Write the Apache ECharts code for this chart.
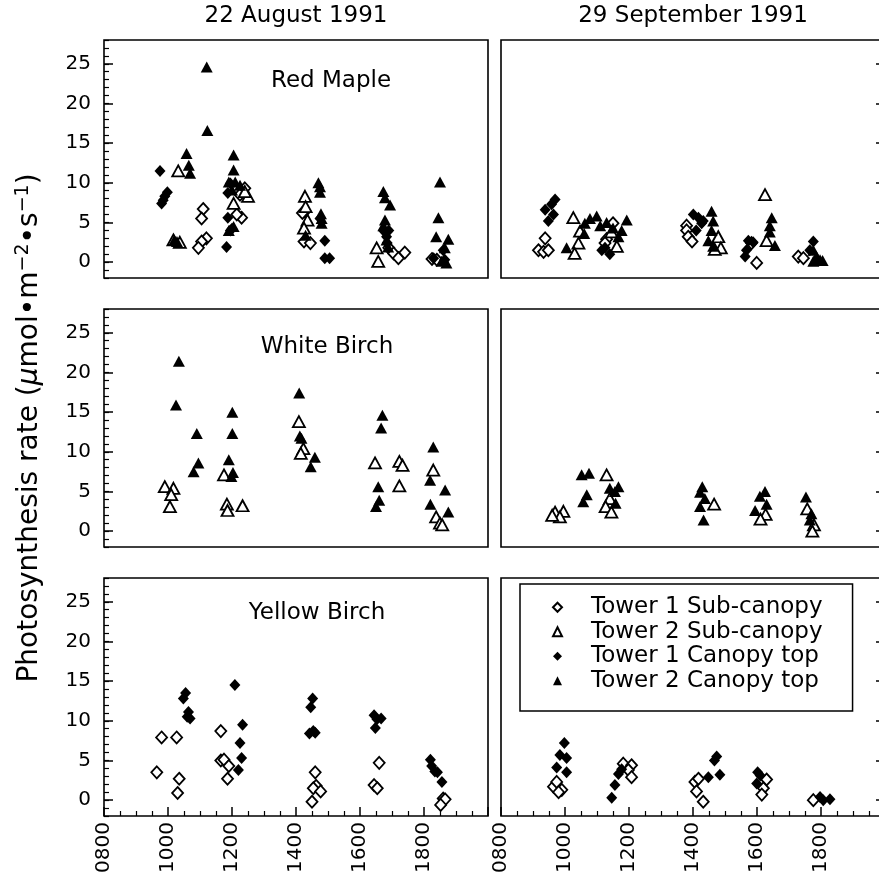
<!DOCTYPE html>
<html>
<head>
<meta charset="utf-8">
<script src="https://cdn.jsdelivr.net/npm/echarts@6/dist/echarts.min.js"></script>
<style>
  html, body { margin: 0; padding: 0; background: #fff; }
  #chart { width: 879px; height: 881px; }
</style>
</head>
<body>
<div id="chart"></div>
<script>
// labels
const seriesNames = ['Tower 1 Sub-canopy', 'Tower 2 Sub-canopy', 'Tower 1 Canopy top', 'Tower 2 Canopy top'];
const speciesNames = ['Red Maple', 'White Birch', 'Yellow Birch'];
const dateNames = ['22 August 1991', '29 September 1991'];
const yTickValues = [0, 5, 10, 15, 20, 25];
const xTickLabels = ['0800', '1000', '1200', '1400', '1600', '1800'];

// [hour of day, photosynthesis rate]
// Red Maple, 22 August
const rmAugT1Sub = [[11.1, 6.7], [11.05, 5.5], [11.2, 3.0], [11.05, 2.6], [10.95, 1.8], [12.25, 8.5], [12.4, 9.3], [12.3, 5.6], [12.15, 6.0],
  [14.28, 6.4], [14.2, 6.2], [14.25, 2.6], [14.45, 2.4], [16.9, 1.8], [17.05, 1.1], [17.2, 0.5], [17.4, 1.2], [18.25, 0.4], [18.4, 0.3]];
const rmAugT2Sub = [[10.32, 11.5], [10.17, 2.8], [10.37, 2.5], [12.05, 7.4], [12.5, 8.3], [12.4, 8.9], [14.28, 8.3], [14.3, 7.0], [14.36, 5.3],
  [14.25, 4.3], [16.52, 1.8], [16.57, 0.1]];
const rmAugT1Top = [[9.75, 11.5], [9.98, 8.8], [9.9, 8.3], [9.85, 7.8], [9.8, 7.4], [11.83, 1.9], [11.87, 5.6], [11.95, 4.0], [12.0, 4.2],
  [11.87, 8.7], [11.95, 9.9], [14.75, 5.5], [14.9, 2.7], [14.9, 0.5], [15.05, 0.5], [16.73, 4.0], [16.83, 3.2], [16.9, 4.0], [16.85, 2.4],
  [18.6, 1.5], [18.65, 0.3], [18.3, 0.5]];
const rmAugT2Top = [[11.21, 24.6], [11.23, 16.6], [10.58, 13.7], [10.65, 12.2], [10.69, 11.2], [10.2, 2.8], [10.28, 2.6], [12.05, 13.5],
  [12.05, 11.6], [11.9, 10.1], [12.1, 10.1], [12.25, 9.7], [12.0, 9.1], [11.9, 4.0], [12.05, 4.5], [14.7, 10.0], [14.75, 9.5], [14.75, 8.8],
  [14.78, 6.1], [14.8, 5.5], [14.8, 4.9], [14.3, 3.4], [16.73, 8.9], [16.78, 8.1], [16.94, 7.2], [16.78, 5.3], [16.73, 4.6], [16.83, 2.8],
  [16.88, 1.9], [18.5, 10.1], [18.45, 5.6], [18.38, 3.2], [18.76, 2.9], [18.65, 1.8], [18.7, -0.1], [18.55, 0.1]];

// Red Maple, 29 September
const rmSepT1Sub = [[9.17, 1.5], [9.33, 1.3], [9.48, 1.5], [9.38, 3.0], [11.5, 4.9], [11.3, 2.9], [11.25, 2.4], [13.8, 4.6], [13.8, 4.0],
  [13.85, 3.2], [13.97, 2.6], [15.99, -0.1], [15.83, 2.4], [17.29, 0.7], [17.45, 0.5]];
const rmSepT2Sub = [[10.26, 5.6], [10.47, 3.9], [10.42, 2.4], [10.3, 1.1], [11.62, 2.0], [11.45, 3.8], [14.79, 3.2], [14.87, 1.8],
  [14.68, 1.6], [16.25, 8.5], [16.3, 2.7]];
const rmSepT1Top = [[9.69, 7.9], [9.58, 7.3], [9.38, 6.6], [9.64, 6.0], [9.48, 5.2], [11.25, 1.8], [11.4, 1.0], [11.15, 1.5], [14.01, 6.0],
  [14.17, 5.6], [14.27, 4.9], [14.1, 4.0], [14.32, 5.2], [15.73, 2.7], [15.88, 2.5], [15.67, 1.5], [15.63, 0.7], [17.76, 2.6], [17.65, 1.5]];
const rmSepT2Top = [[10.05, 1.8], [10.62, 4.9], [10.78, 5.5], [10.99, 5.8], [11.1, 4.6], [10.6, 3.6], [11.3, 5.0], [11.5, 4.3], [11.93, 5.3],
  [11.77, 4.0], [11.67, 3.2], [14.58, 6.4], [14.63, 5.2], [14.58, 4.0], [14.48, 2.7], [14.63, 2.0], [16.46, 5.6], [16.4, 4.6], [16.4, 3.8],
  [16.56, 2.1], [17.76, 1.5], [17.86, 0.7], [17.97, 0.3], [17.76, 0.1], [18.05, 0.2]];

// White Birch, 22 August
const wbAugT2Sub = [[9.9, 5.6], [10.17, 5.4], [10.1, 4.6], [10.06, 3.1], [11.75, 7.1], [11.84, 3.4], [11.86, 2.6], [12.33, 3.2],
  [14.09, 13.8], [14.23, 10.4], [14.15, 9.8], [16.47, 8.6], [17.23, 8.8], [17.33, 8.3], [17.23, 5.7], [18.29, 7.7], [18.38, 1.8],
  [18.5, 1.0], [18.57, 0.8]];
const wbAugT2Top = [[10.34, 21.4], [10.25, 15.9], [10.9, 12.3], [10.95, 8.6], [10.8, 7.5], [12.01, 15.0], [12.01, 12.3], [11.9, 9.0],
  [12.03, 7.4], [11.98, 6.9], [14.1, 17.4], [14.12, 12.0], [14.17, 11.7], [14.59, 9.3], [14.46, 8.1], [16.7, 14.6], [16.66, 13.0],
  [16.57, 5.6], [16.6, 3.9], [16.5, 3.1], [18.29, 10.6], [18.19, 6.4], [18.66, 5.2], [18.2, 3.4], [18.76, 2.4]];

// White Birch, 29 September
const wbSepT2Sub = [[9.69, 2.4], [9.95, 2.5], [9.84, 1.8], [9.6, 2.0], [11.3, 7.1], [11.4, 4.1], [11.27, 3.1], [11.45, 2.4], [14.66, 3.4],
  [16.27, 2.1], [16.11, 1.5], [17.57, 2.8], [17.78, 0.8], [17.73, 0.0]];
const wbSepT2Top = [[10.52, 7.1], [10.75, 7.3], [10.68, 4.6], [10.57, 3.7], [11.4, 5.4], [11.67, 5.6], [11.56, 5.0], [11.58, 3.5],
  [14.29, 5.6], [14.22, 4.9], [14.37, 4.1], [14.22, 3.1], [14.33, 1.4], [16.25, 5.0], [16.09, 4.4], [16.3, 3.4], [15.94, 2.6],
  [17.53, 4.3], [17.7, 2.2], [17.65, 1.4]];

// Yellow Birch, 22 August
const ybAugT1Sub = [[9.65, 3.5], [9.8, 7.9], [10.27, 7.9], [10.35, 2.7], [10.3, 0.9], [11.65, 8.7], [11.65, 5.0], [11.75, 5.1], [11.9, 4.3],
  [11.86, 2.7], [14.6, 3.5], [14.63, 1.8], [14.54, 1.5], [14.77, 1.1], [14.5, -0.2], [16.6, 4.7], [16.44, 1.9], [16.54, 1.5], [18.6, 0.2],
  [18.66, 0.1], [18.52, -0.6]];
const ybAugT1Top = [[10.55, 13.5], [10.48, 12.8], [10.64, 11.1], [10.6, 10.5], [10.69, 10.3], [12.09, 14.5], [12.33, 9.5], [12.25, 7.2],
  [12.3, 5.3], [12.2, 3.8], [14.52, 12.8], [14.46, 11.7], [14.42, 8.4], [14.54, 8.7], [14.6, 8.5], [16.44, 10.7], [16.66, 10.3],
  [16.53, 10.2], [16.48, 9.1], [18.2, 5.1], [18.24, 4.3], [18.34, 3.6], [18.42, 3.5], [18.56, 2.3]];

// Yellow Birch, 29 September
const ybSepT1Sub = [[9.64, 1.7], [9.74, 2.3], [9.9, 1.3], [9.8, 1.0], [11.82, 4.6], [12.08, 4.4], [11.98, 3.8], [12.08, 2.9], [14.06, 2.3],
  [14.11, 1.1], [14.32, -0.2], [14.17, 2.7], [16.3, 2.6], [16.2, 1.5], [16.15, 0.7], [17.76, 0.0]];
const ybSepT1Top = [[9.98, 7.2], [9.84, 5.7], [10.05, 5.3], [9.74, 4.1], [10.05, 3.5], [11.46, 0.3], [11.56, 1.9], [11.67, 3.3],
  [11.77, 3.9], [14.74, 5.5], [14.67, 5.0], [14.48, 2.9], [14.84, 3.2], [16.02, 3.5], [16.1, 3.1], [15.99, 2.1], [17.97, 0.4],
  [18.07, 0.0], [18.28, 0.1]];

// panel -> [t1 sub, t2 sub, t1 top, t2 top], row-major
const panelData = [
  [rmAugT1Sub, rmAugT2Sub, rmAugT1Top, rmAugT2Top],
  [rmSepT1Sub, rmSepT2Sub, rmSepT1Top, rmSepT2Top],
  [[], wbAugT2Sub, [], wbAugT2Top],
  [[], wbSepT2Sub, [], wbSepT2Top],
  [ybAugT1Sub, [], ybAugT1Top, []],
  [ybSepT1Sub, [], ybSepT1Top, []]
];

const ink = '#000';
const font = 'DejaVu Sans';
const symbols = ['diamond', 'triangle', 'diamond', 'triangle'];
const sizes = [[11, 12], [12, 11], [11, 12], [12, 11]];
const styles = [
  {color: '#fff', borderColor: ink, borderWidth: 1.8, opacity: 1},
  {color: '#fff', borderColor: ink, borderWidth: 1.8, opacity: 1},
  {color: ink, opacity: 1},
  {color: ink, opacity: 1}
];

const colLeft = [104, 501];
const rowTop = [40, 309, 578];
const gridW = 384, gridH = 238;

const grids = [], xAxes = [], yAxes = [], series = [];

for (let r = 0; r < 3; r++) {
  for (let c = 0; c < 2; c++) {
    const g = r * 2 + c;
    const bottom = r === 2;
    grids.push({
      left: colLeft[c], top: rowTop[r], width: gridW, height: gridH,
      show: true, borderColor: ink, borderWidth: 1.6, backgroundColor: 'rgba(0,0,0,0)',
      containLabel: false, outerBoundsMode: 'none'
    });
    xAxes.push({
      gridIndex: g, type: 'value', min: 8, max: 20, interval: 2, position: 'bottom',
      axisLine: {show: false, onZero: false}, splitLine: {show: false},
      axisTick: {show: bottom, inside: true, length: 9, lineStyle: {color: ink, width: 1.5}},
      minorTick: {show: bottom, splitNumber: 4, length: 5, lineStyle: {color: ink, width: 1.2}},
      axisLabel: {
        show: bottom, rotate: 90, margin: 6, fontSize: 20, color: ink, fontFamily: font,
        formatter: v => xTickLabels[(v - 8) / 2] || ''
      }
    });
    const pos = c === 0 ? 'left' : 'right';
    // minor ticks every 1 unit
    yAxes.push({
      gridIndex: g, type: 'value', min: -2, max: 28, interval: 1, position: pos,
      axisLine: {show: false, onZero: false}, splitLine: {show: false},
      axisTick: {show: true, inside: true, length: 5, lineStyle: {color: ink, width: 1.2}},
      axisLabel: {show: false}
    });
    // major ticks + labels
    const major = {
      gridIndex: g, type: 'value', min: -2, max: 28, position: pos,
      axisLine: {show: false, onZero: false}, splitLine: {show: false},
      axisTick: {show: true, inside: true, length: 9, customValues: yTickValues, lineStyle: {color: ink, width: 1.5}},
      axisLabel: {show: c === 0, customValues: yTickValues, fontSize: 20, margin: 13, color: ink, fontFamily: font}
    };
    if (g === 2) {
      major.name = '{t|Photosynthesis rate (}{i|μ}{t|mol•m}{s|−2}{t|•s}{s|−1}{t|)}';
      major.nameLocation = 'middle';
      major.nameGap = 58;
      major.nameTextStyle = {
        color: ink, fontFamily: font, fontSize: 28,
        rich: {
          t: {fontSize: 28, lineHeight: 32, color: ink, fontFamily: font},
          i: {fontSize: 28, lineHeight: 32, fontStyle: 'italic', color: ink, fontFamily: font},
          s: {fontSize: 19, lineHeight: 16, verticalAlign: 'top', color: ink, fontFamily: font}
        }
      };
    }
    yAxes.push(major);

    panelData[g].forEach((pts, k) => {
      series.push({
        name: seriesNames[k], type: 'scatter', xAxisIndex: g, yAxisIndex: 2 * g,
        symbol: symbols[k], symbolSize: sizes[k], itemStyle: styles[k],
        emphasis: {disabled: true}, data: pts
      });
    });
  }
}

const titles = [
  {text: dateNames[0], left: 296, top: 5},
  {text: dateNames[1], left: 693, top: 5},
  {text: speciesNames[0], left: 331, top: 70},
  {text: speciesNames[1], left: 327, top: 336},
  {text: speciesNames[2], left: 317, top: 602}
].map(t => Object.assign(t, {
  textAlign: 'center', padding: 0,
  textStyle: {fontSize: 23, fontWeight: 'normal', color: ink, fontFamily: font}
}));

const chart = echarts.init(document.getElementById('chart'));
chart.setOption({
  animation: false,
  backgroundColor: '#fff',
  title: titles,
  legend: {
    data: seriesNames, orient: 'vertical', left: 520, top: 584,
    itemWidth: 9, itemHeight: 9, itemGap: 0, padding: [11, 30, 18, 32],
    borderColor: ink, borderWidth: 1.5, backgroundColor: '#fff', selectedMode: false,
    textStyle: {fontSize: 23, lineHeight: 24.5, color: ink, fontFamily: font, padding: [0, 0, 0, 24]}
  },
  grid: grids,
  xAxis: xAxes,
  yAxis: yAxes,
  series: series
});
</script>
</body>
</html>
